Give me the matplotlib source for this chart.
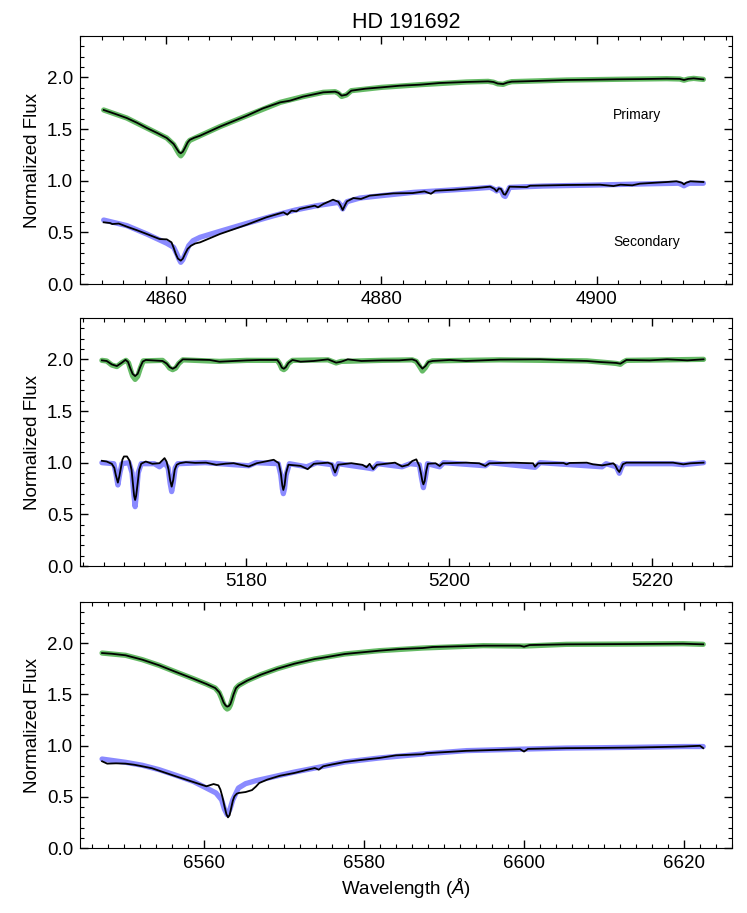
import matplotlib
matplotlib.use("Agg")
import matplotlib.pyplot as plt
from matplotlib.ticker import MultipleLocator

plt.rcParams['font.family'] = ['Liberation Sans', 'DejaVu Sans']
plt.rcParams['mathtext.fontset'] = 'custom'
plt.rcParams['mathtext.rm'] = 'Liberation Sans'
plt.rcParams['mathtext.it'] = 'Liberation Sans:italic'

# ---------------- Panel 1 (H-beta) ----------------
p1_prim_obs_wl = [4854.2, 4855.3, 4856.35, 4857.3, 4858.2, 4859.2, 4860.06, 4860.7, 4861.0, 4861.2,
                  4861.36, 4861.55, 4861.76, 4862.0, 4862.2, 4862.6, 4863.15, 4865.0, 4867.5, 4869.0,
                  4870.6, 4871.5, 4872.7, 4874.6, 4875.7, 4876.0, 4876.3, 4876.75, 4877.2, 4878.5,
                  4880.0, 4881.7, 4883.6, 4885.4, 4887.9, 4889.9, 4890.4, 4890.8, 4891.3, 4891.7,
                  4892.1, 4894.1, 4897.2, 4899.5, 4901.9, 4904.0, 4906.5, 4907.7, 4908.1, 4908.5,
                  4909.0, 4909.9]
p1_prim_obs = [1.684, 1.645, 1.606, 1.56, 1.51, 1.46, 1.413, 1.355, 1.306, 1.275,
               1.265, 1.28, 1.32, 1.37, 1.395, 1.415, 1.435, 1.523, 1.629, 1.70,
               1.758, 1.774, 1.813, 1.855, 1.861, 1.85, 1.823, 1.832, 1.871, 1.89,
               1.903, 1.919, 1.929, 1.945, 1.955, 1.961, 1.955, 1.94, 1.935, 1.95,
               1.958, 1.964, 1.974, 1.977, 1.981, 1.983, 1.987, 1.985, 1.974, 1.985,
               1.99, 1.98]
p1_prim_mod_wl = [4854.2, 4856.35, 4858.2, 4860.06, 4860.7, 4861.0, 4861.2, 4861.36, 4861.55, 4861.76,
                  4862.0, 4862.2, 4863.15, 4865.0, 4867.5, 4870.6, 4872.7, 4874.6, 4875.7, 4876.0,
                  4876.3, 4876.75, 4877.2, 4880.0, 4883.6, 4887.9, 4889.9, 4890.4, 4890.8, 4891.3,
                  4891.7, 4892.1, 4897.2, 4901.9, 4906.5, 4907.7, 4908.1, 4908.5, 4909.0, 4909.9]
p1_prim_mod = [1.684, 1.606, 1.51, 1.413, 1.35, 1.295, 1.26, 1.24, 1.265, 1.31,
               1.365, 1.39, 1.435, 1.523, 1.629, 1.758, 1.813, 1.855, 1.861, 1.845,
               1.815, 1.83, 1.871, 1.903, 1.929, 1.955, 1.961, 1.953, 1.937, 1.932,
               1.948, 1.958, 1.974, 1.981, 1.987, 1.984, 1.972, 1.984, 1.99, 1.98]

p1_sec_obs_wl = [4854.2, 4854.8, 4855.0, 4855.6, 4856.35, 4857.3, 4858.2, 4859.4, 4860.06, 4860.5,
                 4860.7, 4860.9, 4861.1, 4861.36, 4861.55, 4861.75, 4862.0, 4862.3, 4862.7, 4863.15,
                 4865.0, 4867.5, 4869.3, 4870.9, 4871.25, 4871.65, 4872.1, 4872.4, 4873.8, 4874.1,
                 4874.6, 4875.5, 4876.0, 4876.2, 4876.4, 4876.6, 4876.8, 4877.4, 4878.1, 4878.9,
                 4881.1, 4882.9, 4884.0, 4884.6, 4885.0, 4886.7, 4888.8, 4890.1, 4890.5, 4890.7,
                 4890.9, 4891.1, 4891.35, 4891.5, 4891.7, 4891.9, 4893.5, 4893.8, 4897.2, 4900.3,
                 4901.55, 4902.2, 4903.3, 4904.0, 4906.5, 4907.4, 4907.9, 4908.1, 4908.3, 4908.7,
                 4909.9]
p1_sec_obs = [0.597, 0.59, 0.58, 0.585, 0.555, 0.52, 0.484, 0.435, 0.432, 0.403,
              0.35, 0.29, 0.245, 0.226, 0.245, 0.29, 0.34, 0.37, 0.392, 0.403,
              0.484, 0.574, 0.645, 0.694, 0.671, 0.71, 0.703, 0.726, 0.758, 0.742,
              0.774, 0.816, 0.795, 0.76, 0.716, 0.76, 0.8, 0.832, 0.823, 0.855,
              0.877, 0.88, 0.896, 0.873, 0.903, 0.912, 0.929, 0.942, 0.92, 0.896,
              0.925, 0.92, 0.87, 0.864, 0.9, 0.942, 0.938, 0.951, 0.958, 0.961,
              0.948, 0.961, 0.955, 0.971, 0.987, 0.994, 0.98, 0.964, 0.98, 0.994,
              0.987]
p1_sec_mod_wl = [4854.2, 4856.35, 4858.2, 4860.06, 4860.7, 4861.0, 4861.2, 4861.36, 4861.55, 4861.7,
                 4862.1, 4862.5, 4863.15, 4865.0, 4867.5, 4870.0, 4872.0, 4874.0, 4876.0, 4876.2,
                 4876.4, 4876.6, 4876.8, 4878.0, 4880.0, 4883.0, 4885.0, 4888.8, 4890.1, 4890.5,
                 4890.7, 4890.9, 4891.1, 4891.35, 4891.5, 4891.7, 4891.9, 4895.0, 4900.0, 4905.0,
                 4907.6, 4907.9, 4908.1, 4908.3, 4908.6, 4909.9]
p1_sec_mod = [0.619, 0.565, 0.484, 0.394, 0.355, 0.29, 0.24, 0.21, 0.235, 0.274,
              0.371, 0.419, 0.452, 0.51, 0.587, 0.661, 0.716, 0.758, 0.79, 0.765,
              0.726, 0.765, 0.797, 0.832, 0.855, 0.887, 0.9, 0.925, 0.935, 0.915,
              0.9, 0.92, 0.91, 0.855, 0.847, 0.89, 0.935, 0.948, 0.958, 0.97,
              0.975, 0.962, 0.95, 0.962, 0.975, 0.975]

# ---------------- Panel 2 (Mg b region) ----------------
p2_prim_obs_wl = [5165.83, 5166.3, 5166.8, 5167.3, 5167.8, 5168.15, 5168.4, 5168.6, 5168.85, 5169.1,
                  5169.35, 5169.6, 5169.85, 5170.15, 5171.8, 5172.2, 5172.5, 5172.8, 5173.1, 5173.4,
                  5173.8, 5176.45, 5177.4, 5180.1, 5181.4, 5183.1, 5183.35, 5183.55, 5183.75, 5183.95,
                  5184.2, 5184.6, 5185.4, 5186.7, 5188.1, 5188.9, 5189.4, 5190.05, 5191.4, 5193.4,
                  5195.1, 5196.4, 5196.8, 5197.1, 5197.4, 5197.7, 5198.0, 5198.4, 5200.1, 5201.7,
                  5205.0, 5209.0, 5211.6, 5213.6, 5214.9, 5216.0, 5216.5, 5216.9, 5217.2, 5217.5,
                  5219.8, 5221.5, 5223.5, 5225.1]
p2_prim_obs = [1.99, 1.984, 1.951, 1.935, 1.968, 1.995, 1.975, 1.92, 1.86, 1.838,
               1.86, 1.925, 1.978, 1.994, 1.984, 1.96, 1.925, 1.909, 1.925, 1.965,
               2.0, 1.994, 1.977, 1.99, 1.994, 1.994, 1.96, 1.92, 1.909, 1.925,
               1.965, 1.994, 1.977, 1.984, 2.0, 1.968, 1.977, 2.0, 1.984, 1.99,
               1.99, 2.0, 1.985, 1.945, 1.91, 1.935, 1.975, 1.984, 1.994, 1.984,
               1.997, 2.0, 1.99, 1.984, 1.974, 1.968, 1.965, 1.958, 1.975, 1.994,
               1.99, 2.0, 1.99, 2.0]
p2_prim_mod_wl = [5165.83, 5166.3, 5166.8, 5167.3, 5167.8, 5168.2, 5168.45, 5168.65, 5168.85, 5169.1,
                  5169.35, 5169.6, 5169.9, 5171.8, 5172.2, 5172.5, 5172.8, 5173.1, 5173.4, 5173.8,
                  5177.4, 5180.1, 5183.1, 5183.35, 5183.55, 5183.75, 5183.95, 5184.2, 5184.6, 5188.1,
                  5188.9, 5189.4, 5193.4, 5196.4, 5196.8, 5197.1, 5197.4, 5197.7, 5198.0, 5198.4,
                  5205.0, 5213.6, 5216.0, 5216.5, 5216.9, 5217.2, 5217.5, 5221.5, 5225.1]
p2_prim_mod = [1.99, 1.984, 1.945, 1.93, 1.968, 1.99, 1.965, 1.9, 1.84, 1.806,
               1.835, 1.91, 1.985, 1.99, 1.955, 1.915, 1.9, 1.915, 1.96, 1.995,
               1.98, 1.99, 1.99, 1.955, 1.91, 1.9, 1.915, 1.96, 1.99, 1.995,
               1.965, 1.98, 1.99, 1.995, 1.98, 1.935, 1.887, 1.92, 1.97, 1.985,
               1.995, 1.985, 1.965, 1.96, 1.952, 1.975, 1.99, 1.995, 2.0]

p2_sec_obs_wl = [5165.83, 5166.3, 5166.8, 5167.05, 5167.2, 5167.4, 5167.55, 5167.7, 5167.85, 5168.0,
                 5168.3, 5168.55, 5168.75, 5168.9, 5169.0, 5169.1, 5169.2, 5169.35, 5169.5, 5169.7,
                 5170.15, 5170.8, 5171.5, 5172.0, 5172.2, 5172.4, 5172.55, 5172.7, 5172.85, 5173.0,
                 5173.2, 5173.5, 5174.1, 5175.0, 5176.1, 5177.1, 5178.0, 5178.8, 5180.3, 5181.1,
                 5182.75, 5183.25, 5183.45, 5183.6, 5183.7, 5183.82, 5183.97, 5184.2, 5185.4, 5186.1,
                 5186.7, 5188.1, 5188.5, 5188.65, 5188.8, 5188.95, 5189.1, 5190.4, 5191.5, 5191.9,
                 5192.2, 5192.55, 5192.9, 5194.7, 5195.4, 5196.0, 5196.4, 5196.8, 5197.1, 5197.25,
                 5197.4, 5197.5, 5197.62, 5197.78, 5197.95, 5198.7, 5199.1, 5199.4, 5201.7, 5203.0,
                 5203.6, 5204.0, 5206.3, 5208.3, 5208.5, 5208.8, 5211.3, 5211.6, 5211.9, 5213.6,
                 5214.2, 5215.1, 5215.55, 5216.2, 5216.4, 5216.6, 5216.8, 5216.95, 5217.15, 5217.5,
                 5220.2, 5222.1, 5223.1, 5223.8, 5225.1]
p2_sec_obs = [1.018, 1.011, 0.989, 0.95, 0.88, 0.807, 0.87, 0.95, 1.03, 1.06,
              1.06, 1.02, 0.93, 0.78, 0.68, 0.639, 0.68, 0.8, 0.93, 0.99,
              1.011, 0.989, 0.995, 1.044, 1.01, 0.93, 0.83, 0.768, 0.83, 0.93,
              0.98, 0.995, 1.005, 0.998, 1.0, 0.979, 0.99, 0.995, 0.963, 0.995,
              1.028, 0.995, 0.9, 0.78, 0.736, 0.78, 0.9, 0.98, 0.969, 0.937,
              0.989, 1.0, 0.985, 0.94, 0.905, 0.94, 0.98, 0.995, 0.979, 0.956,
              0.989, 0.937, 0.979, 1.0, 0.963, 0.979, 1.016, 1.032, 0.968, 0.9,
              0.82, 0.79, 0.82, 0.92, 0.99, 0.994, 0.968, 0.994, 1.0, 0.994,
              0.968, 0.994, 1.0, 0.994, 0.961, 0.994, 0.997, 0.984, 0.997, 1.0,
              0.984, 0.974, 0.981, 0.994, 0.975, 0.935, 0.91, 0.94, 0.985, 1.0,
              1.0, 1.0, 0.984, 0.994, 1.0]
p2_sec_mod_wl = [5165.83, 5167.0, 5167.2, 5167.4, 5167.6, 5167.8, 5168.5, 5168.8, 5168.95, 5169.1,
                 5169.25, 5169.4, 5169.7, 5171.0, 5171.5, 5172.0, 5172.35, 5172.55, 5172.7, 5172.85,
                 5173.05, 5173.3, 5176.0, 5180.3, 5181.0, 5183.2, 5183.45, 5183.6, 5183.7, 5183.82,
                 5183.97, 5184.3, 5186.0, 5187.0, 5188.5, 5188.8, 5189.1, 5191.9, 5192.5, 5193.0,
                 5195.4, 5196.2, 5197.1, 5197.3, 5197.5, 5197.7, 5197.9, 5199.1, 5199.5, 5203.6,
                 5204.0, 5208.5, 5209.0, 5215.1, 5215.5, 5216.5, 5216.8, 5217.0, 5217.2, 5222.0,
                 5223.1, 5225.1]
p2_sec_mod = [1.0, 0.99, 0.9, 0.784, 0.9, 0.99, 1.0, 0.9, 0.72, 0.574,
              0.72, 0.9, 0.99, 0.99, 0.96, 1.0, 0.95, 0.8, 0.72, 0.8,
              0.95, 0.99, 1.0, 0.97, 1.0, 0.99, 0.88, 0.75, 0.70, 0.75,
              0.88, 0.99, 0.96, 1.0, 0.98, 0.89, 0.99, 0.95, 0.94, 0.99,
              0.96, 0.99, 0.98, 0.86, 0.758, 0.86, 0.99, 0.96, 1.0, 0.97,
              1.0, 0.955, 1.0, 0.96, 0.99, 0.96, 0.897, 0.95, 0.99, 0.99,
              0.98, 1.0]

# ---------------- Panel 3 (H-alpha) ----------------
p3_prim_obs_wl = [6547.26, 6548.5, 6550.2, 6552.3, 6554.4, 6556.5, 6558.65, 6560.3, 6561.4, 6561.9,
                  6562.2, 6562.45, 6562.7, 6562.9, 6563.1, 6563.3, 6563.5, 6563.7, 6564.0, 6564.35,
                  6565.4, 6567.1, 6569.2, 6571.3, 6573.85, 6574.7, 6577.6, 6581.9, 6584.4, 6587.35,
                  6588.6, 6594.9, 6599.5, 6600.0, 6600.7, 6605.3, 6613.65, 6619.9, 6622.4]
p3_prim_obs = [1.902, 1.895, 1.88, 1.837, 1.782, 1.717, 1.652, 1.6, 1.561, 1.52,
               1.47, 1.42, 1.39, 1.379, 1.385, 1.405, 1.45, 1.5, 1.56, 1.587,
               1.633, 1.691, 1.75, 1.798, 1.844, 1.854, 1.893, 1.925, 1.941, 1.951,
               1.961, 1.974, 1.974, 1.964, 1.98, 1.987, 1.99, 1.993, 1.987]
p3_prim_mod_wl = [6547.26, 6550.2, 6552.3, 6554.4, 6556.5, 6558.65, 6560.3, 6561.4, 6561.9, 6562.2,
                  6562.45, 6562.7, 6562.9, 6563.1, 6563.3, 6563.5, 6563.7, 6564.0, 6564.35, 6565.4,
                  6567.1, 6569.2, 6571.3, 6573.85, 6577.6, 6581.9, 6587.35, 6594.9, 6600.0, 6605.3,
                  6613.65, 6619.9, 6622.4]
p3_prim_mod = [1.902, 1.88, 1.837, 1.782, 1.717, 1.652, 1.6, 1.561, 1.515, 1.46,
               1.405, 1.37, 1.356, 1.365, 1.395, 1.445, 1.5, 1.56, 1.587, 1.633,
               1.691, 1.75, 1.798, 1.844, 1.893, 1.925, 1.951, 1.974, 1.97, 1.987,
               1.99, 1.993, 1.987]

p3_sec_obs_wl = [6547.26, 6547.9, 6549.0, 6550.2, 6551.3, 6552.3, 6553.5, 6554.4, 6556.5, 6558.65,
                 6560.3, 6561.2, 6561.8, 6562.05, 6562.3, 6562.55, 6562.8, 6563.0, 6563.2, 6563.4,
                 6563.6, 6563.8, 6564.1, 6564.35, 6565.2, 6566.0, 6566.5, 6566.9, 6567.9, 6569.5,
                 6571.3, 6573.0, 6573.85, 6574.35, 6574.9, 6576.0, 6577.6, 6579.5, 6581.9, 6584.0,
                 6587.35, 6587.8, 6590.0, 6592.8, 6596.0, 6599.5, 6600.0, 6600.5, 6605.3, 6609.0,
                 6613.65, 6617.0, 6619.9, 6622.0, 6622.4]
p3_sec_obs = [0.846, 0.823, 0.826, 0.823, 0.812, 0.797, 0.778, 0.754, 0.699, 0.644,
              0.602, 0.624, 0.611, 0.57, 0.5, 0.41, 0.33, 0.299, 0.32, 0.39,
              0.46, 0.504, 0.53, 0.537, 0.546, 0.565, 0.6, 0.634, 0.667, 0.705,
              0.732, 0.765, 0.78, 0.764, 0.797, 0.815, 0.839, 0.858, 0.878, 0.904,
              0.915, 0.925, 0.935, 0.948, 0.956, 0.964, 0.941, 0.967, 0.974, 0.976,
              0.98, 0.985, 0.99, 0.997, 0.974]
p3_sec_mod_wl = [6547.26, 6550.2, 6552.3, 6554.4, 6556.5, 6558.65, 6560.3, 6561.5, 6562.2, 6562.55,
                 6562.9, 6563.25, 6563.6, 6564.3, 6565.2, 6566.5, 6568.0, 6571.3, 6573.85, 6577.6,
                 6581.9, 6587.3, 6592.8, 6600.0, 6605.3, 6613.65, 6620.0, 6622.4]
p3_sec_mod = [0.868, 0.836, 0.807, 0.764, 0.709, 0.65, 0.585, 0.537, 0.47, 0.38,
              0.325, 0.38, 0.47, 0.585, 0.628, 0.657, 0.683, 0.741, 0.78, 0.839,
              0.878, 0.917, 0.95, 0.965, 0.975, 0.982, 0.99, 0.99]

panels = [
    (p1_prim_mod_wl, p1_prim_mod, p1_prim_obs_wl, p1_prim_obs,
     p1_sec_mod_wl, p1_sec_mod, p1_sec_obs_wl, p1_sec_obs, (4852.0, 4912.56)),
    (p2_prim_mod_wl, p2_prim_mod, p2_prim_obs_wl, p2_prim_obs,
     p2_sec_mod_wl, p2_sec_mod, p2_sec_obs_wl, p2_sec_obs, (5163.67, 5227.9)),
    (p3_prim_mod_wl, p3_prim_mod, p3_prim_obs_wl, p3_prim_obs,
     p3_sec_mod_wl, p3_sec_mod, p3_sec_obs_wl, p3_sec_obs, (6544.5, 6626.0)),
]

fig = plt.figure(figsize=(7.47, 9.13), dpi=100)
rects = [
    [80/747, 1-284/913, 652/747, 248/913],
    [80/747, 1-566/913, 652/747, 248/913],
    [80/747, 1-848/913, 652/747, 246/913],
]
green = '#66bb66'
blue = '#8a8aff'
axes = []
for rect, pan in zip(rects, panels):
    ax = fig.add_axes(rect)
    pmw, pm, pow_, po, smw, sm, sow, so, xl = pan
    ax.plot(pmw, pm, color=green, lw=3.8, solid_capstyle='round', solid_joinstyle='round', zorder=2)
    ax.plot(pow_, po, color='black', lw=1.3, solid_joinstyle='round', zorder=3)
    ax.plot(smw, sm, color=blue, lw=3.8, solid_capstyle='round', solid_joinstyle='round', zorder=2)
    ax.plot(sow, so, color='black', lw=1.3, solid_joinstyle='round', zorder=3)
    ax.set_xlim(*xl)
    ax.set_ylim(0, 2.4)
    ax.xaxis.set_major_locator(MultipleLocator(20))
    ax.xaxis.set_minor_locator(MultipleLocator(2))
    ax.yaxis.set_major_locator(MultipleLocator(0.5))
    ax.yaxis.set_minor_locator(MultipleLocator(0.1))
    ax.tick_params(which='both', direction='in', top=True, right=True, labelsize=13.5, pad=5)
    ax.tick_params(which='major', length=6, width=1)
    ax.tick_params(which='minor', length=3, width=0.8)
    ax.set_ylabel('Normalized Flux', fontsize=13.5, labelpad=4)
    axes.append(ax)

axes[0].set_title('HD 191692', fontsize=15.5, pad=6)
axes[0].text(4901.5, 1.64, 'Primary', fontsize=10, ha='left', va='center')
axes[0].text(4901.5, 0.41, 'Secondary', fontsize=10, ha='left', va='center')
axes[2].set_xlabel(r'Wavelength ($\AA$)', fontsize=13.5, labelpad=3)

fig.savefig('out.png', dpi=100)
